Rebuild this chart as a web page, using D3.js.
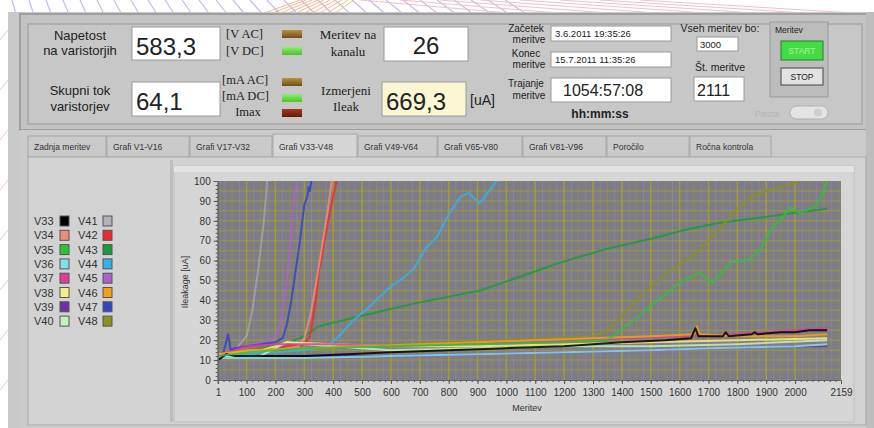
<!DOCTYPE html>
<html><head><meta charset="utf-8">
<script src="https://cdn.jsdelivr.net/npm/d3@7/dist/d3.min.js"></script>
<style>html,body{margin:0;padding:0;background:#fff;}svg{display:block;font-family:"Liberation Sans",Arial,sans-serif;}</style>
</head><body><svg id="c" width="874" height="428"></svg>
<script>
// ---------- data ----------
const seriesNames = ["V33","V34","V35","V36","V37","V38","V39","V40","V41","V42","V43","V44","V45","V46","V47","V48"];
const seriesColors = ["#000000","#f28a7a","#2ec23a","#86dcef","#e03a9a","#f4ee86","#7030a8","#c6f0c0","#b4b0b8","#f02a2a","#1c9a3c","#33b2ea","#b060cc","#f2a210","#3444c4","#8e9020"];
const xTicks = [1,100,200,300,400,500,600,700,800,900,1000,1100,1200,1300,1400,1500,1600,1700,1800,1900,2000,2159];
const yTicks = [0,10,20,30,40,50,60,70,80,90,100];
const tabLabels = ["Zadnja meritev","Grafi  V1-V16","Grafi  V17-V32","Grafi  V33-V48","Grafi  V49-V64","Grafi  V65-V80","Grafi  V81-V96","Poročilo","Ročna kontrola"];

const v33 = [[1,10],[30,13],[60,12],[150,12],[300,12],[450,13],[600,14],[800,15],[1000,16],[1200,17],[1400,19],[1550,20],[1640,21],[1655,26],[1665,22],[1750,22],[1760,24],[1770,22],[1850,23],[1860,24],[1870,23],[1950,24],[2000,24],[2050,25],[2111,25]];
const v34 = [[1,12],[100,14],[200,15],[280,17],[300,21],[320,32],[340,48],[360,66],[380,84],[392,97],[396,101]];
const v35 = [[1,12],[100,14],[300,16],[600,17],[900,18],[1200,19],[1349,20],[1394,25],[1450,31],[1497,37],[1550,43],[1601,49],[1671,54],[1690,51],[1716,49],[1775,59],[1833,60],[1878,65],[1923,77],[1958,82],[1982,87],[2017,84],[2069,87],[2090,92],[2111,100]];
const v36 = [[1,11],[100,11],[300,11],[600,12],[900,13],[1200,14],[1500,15],[1700,16],[2000,17],[2111,18]];
const v37 = [[1,12],[100,17],[200,18],[400,18],[600,17],[800,18],[1000,19],[1200,20],[1400,21],[1600,22],[1800,23],[2000,25],[2111,26]];
const v38 = [[1,13],[150,15],[200,17],[240,19],[400,18],[600,17],[900,17],[1200,18],[1500,19],[1800,20],[2111,21]];
const v39 = [[1,12],[100,12],[300,12],[600,12],[900,13],[1200,14],[1500,15],[1700,16],[2000,17],[2111,17]];
const v40 = [[1,12],[146,12],[240,19],[300,18],[400,17],[600,15],[900,16],[1200,17],[1500,17],[1800,18],[2111,20]];
const v41 = [[1,12],[60,15],[100,22],[120,35],[140,55],[160,80],[172,101]];
const v42 = [[1,13],[100,15],[200,16],[300,18],[320,22],[340,40],[350,55],[360,62],[380,78],[400,92],[413,101]];
const v43 = [[1,12],[150,16],[250,19],[300,22],[350,27],[407,29],[550,34],[700,39],[909,45],[1050,52],[1186,59],[1350,66],[1500,71],[1636,76],[1740,79],[1850,81],[2000,84],[2111,86]];
const v44 = [[1,12],[100,13],[200,14],[300,15],[379,17],[420,22],[470,30],[520,36],[562,42],[600,47],[640,51],[680,56],[720,66],[760,72],[800,83],[840,92],[870,94],[890,91],[908,89],[925,92],[945,96],[967,100],[972,102]];
const v45 = [[1,13],[100,17],[150,19],[180,20],[200,22],[220,30],[235,45],[250,65],[260,85],[268,95],[275,101]];
const v46 = [[1,13],[100,15],[300,16],[500,17],[700,18],[900,19],[1100,20],[1300,21],[1500,22],[1650,23],[1660,27],[1670,23],[1800,22],[2000,22],[2111,23]];
const v47 = [[1,12],[20,14],[36,23],[45,15],[60,16],[100,17],[150,18],[200,19],[225,21],[240,28],[255,40],[270,55],[285,70],[295,82],[300,88],[310,92],[315,97],[320,95],[325,101]];
const v48 = [[1,13],[500,17],[1000,20],[1300,22],[1350,25],[1400,32],[1450,40],[1500,47],[1550,53],[1600,58],[1650,63],[1700,70],[1750,78],[1800,86],[1850,92],[1900,95],[1950,97],[2000,99],[2020,101]];
const seriesData = [v33,v34,v35,v36,v37,v38,v39,v40,v41,v42,v43,v44,v45,v46,v47,v48];

// ---------- drawing ----------
const svg = d3.select("#c");
svg.append("rect").attr("width",874).attr("height",428).attr("fill","#fff");
const deco = svg.append("g");
for (let i=0;i<30;i++){
  deco.append("line").attr("x1",12+i*17).attr("y1",0).attr("x2",16+i*17.6).attr("y2",14).attr("stroke","#cdb8e6").attr("stroke-width",1.2);
}
for (let i=0;i<10;i++){
  deco.append("line").attr("x1",262+i*8).attr("y1",14).attr("x2",300+i*6).attr("y2",0).attr("stroke","#f0b890").attr("stroke-width",1);
}
for (let i=0;i<8;i++){
  deco.append("line").attr("x1",360+i*40).attr("y1",0).attr("x2",520+i*50).attr("y2",14).attr("stroke","#f0c0d0").attr("stroke-width",1);
}
for (let i=0;i<8;i++){
  deco.append("line").attr("x1",0).attr("y1",40+i*50).attr("x2",8).attr("y2",30+i*50).attr("stroke","#f0c0d0").attr("stroke-width",1);
}

svg.append("rect").attr("x",8).attr("y",12).attr("width",866).attr("height",416).attr("fill","#c9c9c9");
svg.append("rect").attr("x",20).attr("y",14).attr("width",850).attr("height",116).attr("fill","#c3c3c3").attr("stroke","#9e9e9e").attr("stroke-width",2);
svg.append("rect").attr("x",28).attr("y",24).attr("width",834).attr("height",100).attr("fill","#c7c7c7").attr("stroke","#a8a8a8").attr("stroke-width",1.5);
svg.append("rect").attr("x",866).attr("y",12).attr("width",8).attr("height",416).attr("fill","#bdbdbd");

const T = (x,y,s,opt={}) => {
  const t = svg.append("text").attr("x",x).attr("y",y).text(s)
    .attr("font-size",opt.size||13).attr("fill",opt.fill||"#222")
    .attr("text-anchor",opt.anchor||"start");
  if (opt.weight) t.attr("font-weight",opt.weight);
  if (opt.family) t.attr("font-family",opt.family);
  return t;
};
const box = (x,y,w,h,fill) => svg.append("rect").attr("x",x).attr("y",y).attr("width",w).attr("height",h)
  .attr("fill",fill||"#fff").attr("stroke","#9a9a9a").attr("stroke-width",1);
const led = (x,y,c1,c2) => {
  const id = "g"+Math.round(x*1000+y);
  const g = svg.append("defs").append("linearGradient").attr("id",id).attr("x1",0).attr("y1",0).attr("x2",0).attr("y2",1);
  g.append("stop").attr("offset",0).attr("stop-color",c2);
  g.append("stop").attr("offset",1).attr("stop-color",c1);
  svg.append("rect").attr("x",x).attr("y",y).attr("width",20).attr("height",8).attr("fill",`url(#${id})`);
};

const serif = "'Liberation Serif','DejaVu Serif',serif";
T(80,40,"Napetost",{anchor:"middle"});
T(80,55,"na varistorjih",{anchor:"middle"});
box(132,27,88,33); T(136,55,"583,3",{size:24});
T(226,38,"[V AC]",{size:12.5,family:serif}); T(226,55,"[V DC]",{size:12.5,family:serif});
led(282,30,"#6e4e18","#b89048"); led(282,47,"#50c030","#8cf070");
T(80,95,"Skupni tok",{anchor:"middle"});
T(80,111,"varistorjev",{anchor:"middle"});
box(132,82,88,34); T(136,110,"64,1",{size:24});
T(222,84,"[mA AC]",{size:12.5,family:serif}); T(222,100,"[mA DC]",{size:12.5,family:serif}); T(248,116,"Imax",{size:12.5,anchor:"middle",family:serif});
led(282,78,"#6e4e18","#b89048"); led(282,94,"#50c030","#8cf070"); led(282,109,"#601808","#a83a20");

T(348,39,"Meritev na",{anchor:"middle",family:serif});
T(348,56,"kanalu",{anchor:"middle",family:serif});
box(384,27,84,34); T(426,54,"26",{size:24,anchor:"middle"});
T(346,95,"Izmerjeni",{anchor:"middle",family:serif});
T(346,111,"Ileak",{anchor:"middle",family:serif});
box(382,82,84,34,"#fbf7d4"); T(386,110,"669,3",{size:24});
T(470,105,"[uA]",{size:14});

T(526,32,"Začetek",{size:10,anchor:"middle"}); T(529,43,"meritve",{size:10,anchor:"middle"});
box(551,26,120,15); T(555,37,"3.6.2011    19:35:26",{size:9.5});
T(526,57,"Konec",{size:10,anchor:"middle"}); T(529,68,"meritve",{size:10,anchor:"middle"});
box(551,52,120,15); T(555,63,"15.7.2011    11:35:26",{size:9.5});
T(526,87,"Trajanje",{size:10,anchor:"middle"}); T(529,99,"meritve",{size:10,anchor:"middle"});
box(551,78,120,24); T(563,96,"1054:57:08",{size:16});
T(600,118,"hh:mm:ss",{size:12,weight:"bold",anchor:"middle"});
T(720,32,"Vseh meritev bo:",{size:10.5,anchor:"middle"});
box(697,37,41,14); T(700,48,"3000",{size:9.5});
T(720,71,"Št. meritve",{size:10.5,anchor:"middle"});
box(694,77,50,24); T(697,96,"2111",{size:16});

svg.append("rect").attr("x",770).attr("y",22).attr("width",58).attr("height",75).attr("fill","#bcbcbc").attr("stroke","#999");
T(775,33,"Meritev",{size:8.5});
svg.append("rect").attr("x",781).attr("y",41).attr("width",42).attr("height",19).attr("fill","#44dc44").attr("stroke","#2a7a2a");
T(802,54,"START",{size:8.5,anchor:"middle",fill:"#a8f8a0"});
svg.append("rect").attr("x",781).attr("y",68).attr("width",42).attr("height",17).attr("fill","#e2e2e2").attr("stroke","#444");
T(802,80,"STOP",{size:8.5,anchor:"middle"});
T(755,117,"Pauza",{size:8.5,fill:"#b4b4b4"});
svg.append("rect").attr("x",790).attr("y",106).attr("width",38).attr("height",13).attr("rx",6.5).attr("fill","#e4e4e4").attr("stroke","#b0b0b0");
svg.append("circle").attr("cx",818).attr("cy",112.5).attr("r",4).attr("fill","#cfcfcf");

// tabs
const tabX = [28,107,190,273,358,438,523,607,690,772];
svg.append("rect").attr("x",20).attr("y",130).attr("width",846).attr("height",298).attr("fill","#cbcbcb");
tabLabels.forEach((lab,i)=>{
  const sel = i===3;
  svg.append("rect").attr("x",tabX[i]).attr("y",sel?134:136).attr("width",tabX[i+1]-tabX[i]-1).attr("height",sel?24:21)
    .attr("fill",sel?"#d6d6d6":"#cacaca").attr("stroke","#a6a6a6");
  T(tabX[i]+6,150,lab,{size:8.5,fill:"#333"});
});
svg.append("rect").attr("x",28).attr("y",157).attr("width",838).attr("height",268).attr("fill","#d2d2d2").attr("stroke","#ababab");
svg.append("rect").attr("x",170).attr("y",160).attr("width",3).attr("height",262).attr("fill","#bdbdbd");
svg.append("rect").attr("x",174).attr("y",166).attr("width",680).attr("height",256).attr("fill","#d6d6d6").attr("stroke","#c0c0c0");
svg.append("rect").attr("x",174).attr("y",166).attr("width",680).attr("height",6).attr("fill","#e4e4e4");

// legend
seriesNames.forEach((n,i)=>{
  const col = Math.floor(i/8), row = i%8;
  const x0 = col===0?34:78, y0 = 225+row*14.3;
  T(x0,y0,n,{size:11,fill:"#333"});
  svg.append("rect").attr("x",col===0?60:103).attr("y",y0-9).attr("width",9).attr("height",10)
    .attr("fill",seriesColors[i]).attr("stroke","#555").attr("stroke-width",1);
});

// plot
const x = d3.scaleLinear().domain([0,2159]).range([217.7,841]);
const y = d3.scaleLinear().domain([0,100]).range([380,181]);
const pg = svg.append("g");
pg.append("rect").attr("x",x(0)).attr("y",y(100)).attr("width",x(2159)-x(0)).attr("height",y(0)-y(100)).attr("fill","#7e7c84");
const minorX = d3.range(20,2159,20), minorY = d3.range(2,100,2);
const gridX = d3.range(25,2159,25), gridY = d3.range(5,100,5);
pg.selectAll(".mgx").data(gridX).join("line").attr("x1",d=>x(d)).attr("x2",d=>x(d)).attr("y1",y(0)).attr("y2",y(100))
  .attr("stroke",(d)=>d%50===0?"#9a9540":"#928cae").attr("stroke-opacity",0.6).attr("stroke-width",1);
pg.selectAll(".mgy").data(gridY).join("line").attr("y1",d=>y(d)).attr("y2",d=>y(d)).attr("x1",x(0)).attr("x2",x(2159))
  .attr("stroke","#a29c3a").attr("stroke-opacity",0.6).attr("stroke-width",1.5);
pg.selectAll(".gx").data(xTicks.slice(1,-1)).join("line").attr("x1",d=>x(d)).attr("x2",d=>x(d)).attr("y1",y(0)).attr("y2",y(100))
  .attr("stroke","#a8a030").attr("stroke-opacity",0.75).attr("stroke-width",1.5);

svg.append("clipPath").attr("id","pc").append("rect").attr("x",x(0)).attr("y",y(100)).attr("width",x(2159)-x(0)).attr("height",y(0)-y(100));
const line = d3.line().x(d=>x(d[0])).y(d=>y(d[1]));
const lg = svg.append("g").attr("clip-path","url(#pc)");
const order = [10,15,11,8,12,14,9,1,6,3,7,5,4,13,0,2];
order.forEach(i=>{
  lg.append("path").attr("d",line(seriesData[i])).attr("fill","none").attr("stroke",seriesColors[i])
    .attr("stroke-width",2).attr("stroke-linejoin","round").attr("stroke-opacity",i===8?0.6:0.85);
});

// axes
const xa = svg.append("g").attr("transform",`translate(0,${y(0)})`);
xa.call(d3.axisBottom(x).tickValues(xTicks).tickSize(4).tickFormat(d3.format("d")));
const xm = svg.append("g").attr("transform",`translate(0,${y(0)})`);
xm.call(d3.axisBottom(x).tickValues(minorX).tickSize(2).tickFormat(""));
const ya = svg.append("g").attr("transform",`translate(${x(0)},0)`);
ya.call(d3.axisLeft(y).tickValues(yTicks).tickSize(4));
const ym = svg.append("g").attr("transform",`translate(${x(0)},0)`);
ym.call(d3.axisLeft(y).tickValues(minorY).tickSize(2).tickFormat(""));
svg.selectAll(".domain").attr("stroke","#666");
svg.selectAll(".tick line").attr("stroke","#555");
svg.selectAll(".tick text").attr("font-size",10).attr("fill","#333").attr("font-family","'Liberation Sans',Arial,sans-serif");
xa.selectAll(".tick text").attr("dy","0.9em");
svg.append("text").attr("transform",`translate(188,282) rotate(-90)`).attr("text-anchor","middle").attr("font-size",9).attr("fill","#333").text("Ileakage [uA]");
T(527,411,"Meritev",{size:9,anchor:"middle",fill:"#333"});
</script></body></html>
